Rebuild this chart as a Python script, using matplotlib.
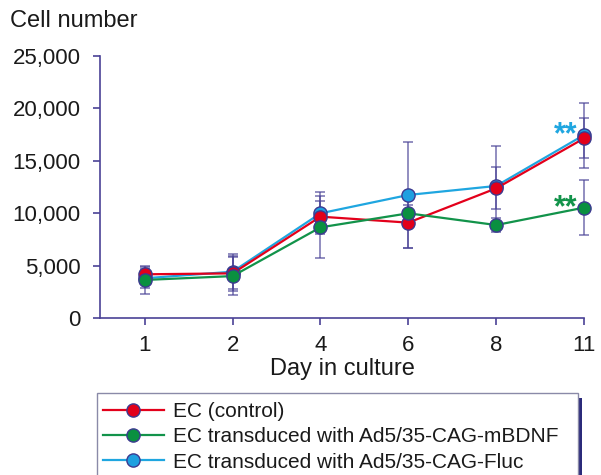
import numpy as np
import matplotlib
matplotlib.use("Agg")
import matplotlib.pyplot as plt
from matplotlib.patches import Rectangle

plt.rcParams['font.family'] = ['Liberation Sans', 'DejaVu Sans']

# --- data ---
days = ['1', '2', '4', '6', '8', '11']
control = [4170, 4260, 9670, 9100, 12370, 17140]
control_err = [700, 1700, 1500, 2400, 2000, 1900]
mbdnf = [3630, 4000, 8650, 9990, 8870, 10530]
mbdnf_err = [1300, 1800, 2950, 800, 630, 2620]
fluc = [3790, 4420, 9990, 11740, 12600, 17460]
fluc_err = [900, 1650, 2000, 5100, 3850, 3100]

labels = ['EC (control)',
          'EC transduced with Ad5/35-CAG-mBDNF',
          'EC transduced with Ad5/35-CAG-Fluc']

axis_col = '#4a4296'
edge_col = '#3c3a90'
text_col = '#1a1a1a'

W, H = 601, 475
fig = plt.figure(figsize=(W / 100, H / 100), dpi=100)
ax = fig.add_axes([100 / W, (H - 318) / H, (584 - 100) / W, (318 - 56) / H])

x = np.arange(len(days))
series = [
    (control, control_err, '#e3001b', '#e2001a', labels[0], 4),
    (mbdnf, mbdnf_err, '#12934a', '#0a9040', labels[1], 5),
    (fluc, fluc_err, '#1fa6e0', '#1ea0e0', labels[2], 3),
]

handles = []
for vals, errs, lc, fc, lab, z in series:
    eb = ax.errorbar(x, vals, yerr=errs, fmt='none', ecolor=axis_col, elinewidth=1.3,
                     capsize=3.5, capthick=1.3, alpha=0.65, zorder=2)
    for a in eb.lines[1] + eb.lines[2]:
        a.set_clip_on(False)
    ln, = ax.plot(x, vals, color=lc, lw=1.6, marker='o', ms=9.5, mfc=fc,
                  mec=edge_col, mew=1.0, label=lab, zorder=z, clip_on=False)
    handles.append(ln)

# significance marks
ax.annotate('**', xy=(x[-1], fluc[-1]), xytext=(-13, -6), textcoords='offset points',
            ha='center', va='baseline', color='#1fa6e0', fontsize=22, fontweight='bold')
ax.annotate('**', xy=(x[-1], mbdnf[-1]), xytext=(-13, -6), textcoords='offset points',
            ha='center', va='baseline', color='#12934a', fontsize=22, fontweight='bold')

ax.set_xlim(-0.51, 5)
ax.set_ylim(0, 25000)
ax.set_xticks(x)
ax.set_xticklabels(days)
ax.set_yticks(np.arange(0, 25001, 5000))
ax.set_yticklabels(['0', '5,000', '10,000', '15,000', '20,000', '25,000'])
for s in ['top', 'right']:
    ax.spines[s].set_visible(False)
for s in ['left', 'bottom']:
    ax.spines[s].set_color(axis_col)
    ax.spines[s].set_linewidth(1.2)
ax.tick_params(axis='both', colors=axis_col, labelcolor=text_col, labelsize=16,
               length=5, width=1.2, direction='out')
ax.tick_params(axis='y', pad=9)
ax.tick_params(axis='x', pad=7)

fig.text(10 / W, 1 - 21 / H, 'Cell number', ha='left', va='center', fontsize=17, color=text_col)
fig.text(342 / W, 1 - 369 / H, 'Day in culture', ha='center', va='center', fontsize=17, color=text_col)

# legend box with dark shadow on the right
fig.patches.append(Rectangle((582 / W - 481 / W, -0.05), 481 / W, (H - 398) / H + 0.05,
                             transform=fig.transFigure, facecolor='#2b2a7a',
                             edgecolor='none', zorder=3))
fig.patches.append(Rectangle((97 / W, -0.05), 481 / W, (H - 393) / H + 0.05,
                             transform=fig.transFigure, facecolor='white',
                             edgecolor='#8a8aa8', lw=1.0, zorder=4))
fig.legend(handles=handles, loc='upper left', bbox_to_anchor=(99 / W, 1 - 398 / H),
           frameon=False, fontsize=15, handlelength=2.9, handletextpad=0.45,
           labelspacing=0.3, borderpad=0.2, borderaxespad=0, labelcolor=text_col)

fig.savefig('out.png', dpi=100)
